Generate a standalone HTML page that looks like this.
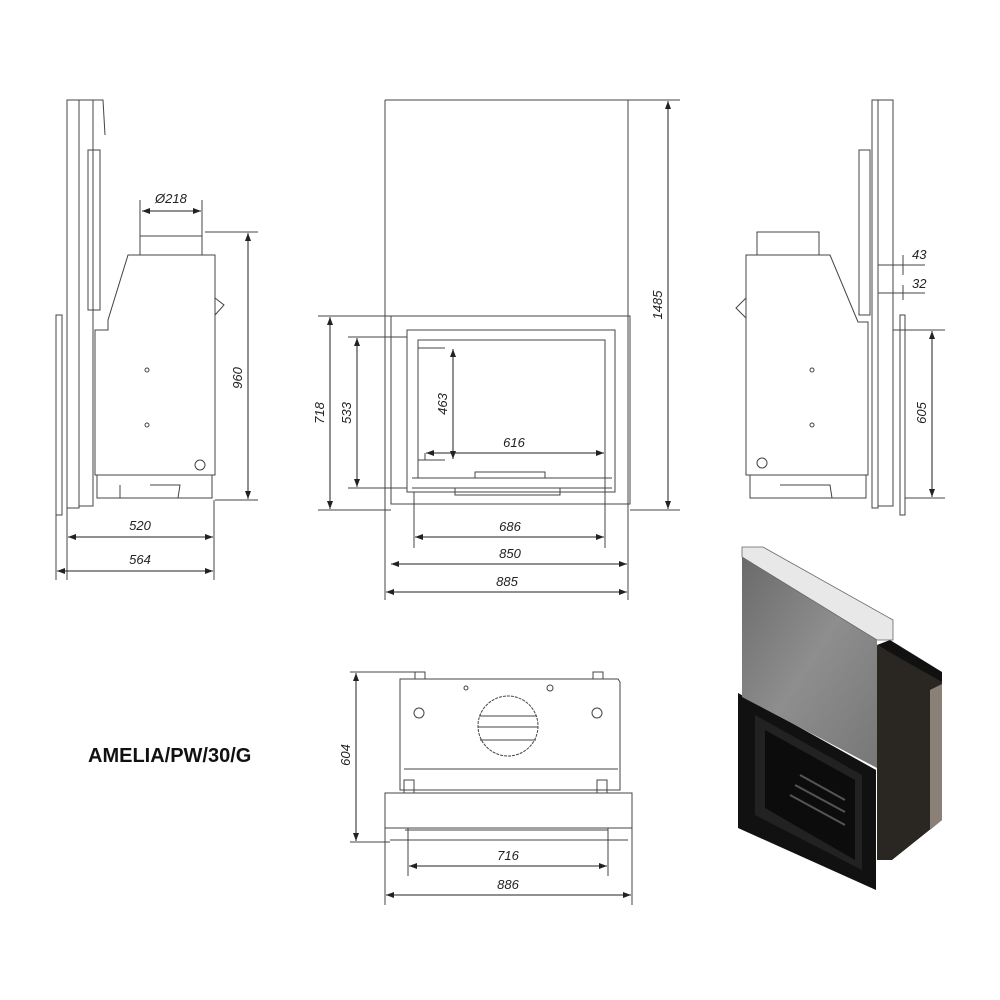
<!DOCTYPE html>
<html><head><meta charset="utf-8"><style>
html,body{margin:0;padding:0;background:#fff;width:1000px;height:1000px;overflow:hidden}
text{font-family:"Liberation Sans",sans-serif;font-size:13px;font-style:italic;fill:#222}
</style></head><body>
<svg width="1000" height="1000" viewBox="0 0 1000 1000" xmlns="http://www.w3.org/2000/svg">
<defs>
<marker id="a" markerWidth="8" markerHeight="6" refX="8" refY="3" orient="auto-start-reverse"><path d="M0,0 L8,3 L0,6z" fill="#222"/></marker>
</defs>
<g stroke="#444" stroke-width="1" fill="none">
<rect x="67" y="100" width="12" height="408"/>
<rect x="79" y="100" width="14" height="406"/>
<rect x="88" y="150" width="12" height="160"/>
<path d="M93,100 L103,100 L105,135"/>
<rect x="56" y="315" width="6" height="200"/>
<path d="M128,255 L215,255 L215,475 L95,475 L95,330 L108,330 L108,320 Z"/>
<path d="M140,230 L140,255 M202,230 L202,255 M140,236 L202,236"/>
<path d="M97,475 L97,498 L212,498 L212,475 M120,485 L120,498 M150,485 L180,485 L178,498"/>
<path d="M215,298 L224,305 L215,315"/>
<circle cx="200" cy="465" r="5"/>
<circle cx="147" cy="370" r="2"/><circle cx="147" cy="425" r="2"/>
<path d="M140,236 L140,200 M202,236 L202,200 M205,232 L258,232 M215,500 L258,500 M67,508 L67,580 M214,500 L214,580 M56,515 L56,580"/>
<path d="M385,100 L628,100 M385,100 L385,600 M628,100 L628,600 M628,100 L680,100"/>
<rect x="391" y="316" width="239" height="188"/>
<rect x="407" y="330" width="208" height="162"/>
<rect x="418" y="340" width="187" height="138"/>
<path d="M412,478 L612,478 M412,488 L612,488 M475,478 L475,472 L545,472 L545,478"/>
<path d="M455,488 L455,495 L560,495 L560,488"/>
<path d="M318,316 L391,316 M318,510 L391,510 M348,337 L407,337 M348,488 L407,488 M630,510 L680,510 M445,348 L418,348 M445,460 L418,460 M425,460 L425,453 M605,478 L605,548"/>
<path d="M414,492 L414,548"/>
<path d="M746,255 L830,255 L858,322 L868,322 L868,475 L746,475 Z"/>
<rect x="757" y="232" width="62" height="23"/>
<rect x="872" y="100" width="6" height="408"/>
<rect x="878" y="100" width="15" height="406"/>
<rect x="859" y="150" width="11" height="165"/>
<rect x="900" y="315" width="5" height="200"/>
<path d="M746,298 L736,308 L746,318"/>
<circle cx="762" cy="463" r="5"/>
<circle cx="812" cy="370" r="2"/><circle cx="812" cy="425" r="2"/>
<path d="M750,475 L750,498 L866,498 L866,475 M780,485 L830,485 L832,498"/>
<path d="M903,255 L903,275 M903,285 L903,300 M893,330 L945,330 M905,498 L945,498 M878,265 L925,265 M878,293 L925,293"/>
<path d="M400,679 L618,679 L620,682 L620,790 L400,790 L400,682 Z"/>
<circle cx="508" cy="726" r="30" stroke-dasharray="3,1"/>
<path d="M479,716 L537,716 M478,727 L538,727 M480,740 L536,740"/>
<circle cx="419" cy="713" r="5"/><circle cx="597" cy="713" r="5"/>
<circle cx="466" cy="688" r="2"/><circle cx="550" cy="688" r="3"/>
<rect x="415" y="672" width="10" height="7"/><rect x="593" y="672" width="10" height="7"/>
<rect x="404" y="780" width="10" height="13"/><rect x="597" y="780" width="10" height="13"/>
<path d="M404,769 L618,769"/>
<rect x="385" y="793" width="247" height="35"/>
<path d="M405,830 L608,830 M390,840 L628,840 M408,828 L408,876 M608,828 L608,876 M385,828 L385,905 M632,828 L632,905 M350,672 L415,672 M350,842 L390,842"/>
</g>
<g stroke="#222" stroke-width="1" fill="none" marker-start="url(#a)" marker-end="url(#a)">
<line x1="142" y1="211" x2="201" y2="211"/>
<line x1="248" y1="233" x2="248" y2="499"/>
<line x1="68" y1="537" x2="213" y2="537"/>
<line x1="57" y1="571" x2="213" y2="571"/>
<line x1="668" y1="101" x2="668" y2="509"/>
<line x1="330" y1="317" x2="330" y2="509"/>
<line x1="357" y1="338" x2="357" y2="487"/>
<line x1="453" y1="349" x2="453" y2="459"/>
<line x1="426" y1="453" x2="604" y2="453"/>
<line x1="415" y1="537" x2="604" y2="537"/>
<line x1="391" y1="564" x2="627" y2="564"/>
<line x1="386" y1="592" x2="627" y2="592"/>
<line x1="932" y1="331" x2="932" y2="497"/>
<line x1="356" y1="673" x2="356" y2="841"/>
<line x1="409" y1="866" x2="607" y2="866"/>
<line x1="386" y1="895" x2="631" y2="895"/>
</g>
<text x="155" y="203">Ø218</text>
<text x="242" y="378" transform="rotate(-90 242 378)" text-anchor="middle">960</text>
<text x="140" y="530" text-anchor="middle">520</text>
<text x="140" y="564" text-anchor="middle">564</text>
<text x="662" y="305" transform="rotate(-90 662 305)" text-anchor="middle">1485</text>
<text x="324" y="413" transform="rotate(-90 324 413)" text-anchor="middle">718</text>
<text x="351" y="413" transform="rotate(-90 351 413)" text-anchor="middle">533</text>
<text x="447" y="404" transform="rotate(-90 447 404)" text-anchor="middle">463</text>
<text x="514" y="447" text-anchor="middle">616</text>
<text x="510" y="531" text-anchor="middle">686</text>
<text x="510" y="558" text-anchor="middle">850</text>
<text x="507" y="586" text-anchor="middle">885</text>
<text x="912" y="259">43</text>
<text x="912" y="288">32</text>
<text x="926" y="413" transform="rotate(-90 926 413)" text-anchor="middle">605</text>
<text x="350" y="755" transform="rotate(-90 350 755)" text-anchor="middle">604</text>
<text x="508" y="860" text-anchor="middle">716</text>
<text x="508" y="889" text-anchor="middle">886</text>
<text x="88" y="762" style="font-style:normal;font-weight:bold;font-size:20px;fill:#111">AMELIA/PW/30/G</text>
<defs><linearGradient id="g" x1="0" y1="0" x2="1" y2="1"><stop offset="0" stop-color="#6a6a6a"/><stop offset=".5" stop-color="#8e8e8e"/><stop offset="1" stop-color="#777"/></linearGradient></defs>
<polygon points="877,645 942,680 942,820 892,860 877,860" fill="#2a2622"/>
<polygon points="877,645 890,640 942,672 942,682" fill="#111"/>
<polygon points="930,690 942,684 942,820 930,830" fill="#8a8078"/>
<polygon points="738,693 876,770 876,890 738,828" fill="#111"/>
<polygon points="755,715 862,775 862,870 755,815" fill="#222"/>
<polygon points="765,730 855,780 855,860 765,808" fill="#0c0c0c"/>
<g stroke="#555" stroke-width="2"><line x1="790" y1="795" x2="845" y2="825"/><line x1="795" y1="785" x2="845" y2="812"/><line x1="800" y1="775" x2="845" y2="800"/></g>
<polygon points="742,557 877,640 877,768 742,697" fill="url(#g)"/>
<polygon points="742,547 763,547 893,620 893,640 877,640 742,557" fill="#e8e8e8" stroke="#666" stroke-width="0.8"/>
</svg>
</body></html>
